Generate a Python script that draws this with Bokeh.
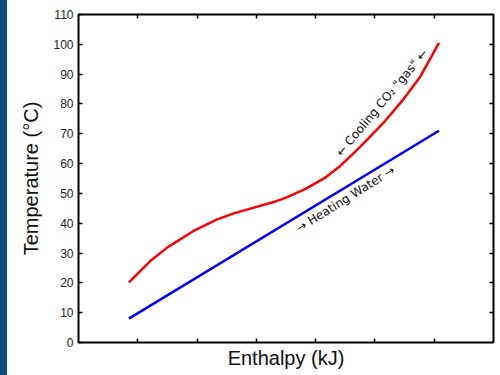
from bokeh.plotting import figure
from bokeh.models import LinearAxis, FixedTicker, CustomJSTickFormatter
from bokeh.core.properties import value
from bokeh.embed import file_html
from bokeh.resources import INLINE

# Data
co2_enthalpy = [0.85, 1.21, 1.50, 1.94, 2.34, 2.62, 2.90, 3.29, 3.49, 3.83,
                4.17, 4.42, 4.76, 5.15, 5.49, 5.77, 6.08]
co2_temp = [20.2, 27.3, 31.9, 37.4, 41.3, 43.3, 44.9, 47.1, 48.5, 51.5,
            55.4, 59.3, 65.8, 73.8, 81.8, 89.3, 100.5]
water_enthalpy = [0.85, 6.08]
water_temp = [8.0, 71.0]
y_ticks = [0, 10, 20, 30, 40, 50, 60, 70, 80, 90, 100, 110]
x_ticks = [1, 2, 3, 4, 5, 6]

FONT = "Liberation Sans"
NOTE_FONT = "DejaVu Sans"

p = figure(width=500, height=375, x_range=(0, 7), y_range=(0, 110),
           output_backend="svg", toolbar_location=None,
           min_border_left=78, min_border_right=7, min_border_top=14,
           min_border_bottom=33,
           x_axis_label="Enthalpy (kJ)", y_axis_label="Temperature (°C)")
p.styles = {"background": "linear-gradient(to right, #0b4a82 0px, #0b4a82 7px, #ffffff 7px)"}
p.border_fill_color = None
p.background_fill_color = "white"
p.grid.visible = False
p.outline_line_color = "black"
p.outline_line_width = 2
p.outline_line_alpha = 1

blank = CustomJSTickFormatter(code="return ''")

def style_axis(ax, ticks, labels=True):
    ax.ticker = FixedTicker(ticks=ticks)
    ax.axis_line_color = None
    ax.major_tick_in = 4
    ax.major_tick_out = 0
    ax.major_tick_line_width = 1.5
    ax.major_tick_line_color = "black"
    ax.minor_tick_line_color = None
    ax.major_label_text_font = FONT
    ax.major_label_text_font_size = "12px"
    ax.major_label_text_color = "#222222"
    ax.axis_label_text_font = FONT
    ax.axis_label_text_font_size = "20px"
    ax.axis_label_text_font_style = "normal"
    ax.axis_label_text_color = "#111111"
    if not labels:
        ax.formatter = blank

style_axis(p.yaxis[0], y_ticks)
p.yaxis[0].major_label_standoff = 5
p.yaxis[0].axis_label_standoff = 8
style_axis(p.xaxis[0], x_ticks, labels=False)
p.xaxis[0].major_label_standoff = 0
p.xaxis[0].axis_label_standoff = 4

right = LinearAxis()
style_axis(right, y_ticks[1:-1], labels=False)
right.major_label_standoff = 0
p.add_layout(right, "right")
top = LinearAxis()
style_axis(top, x_ticks, labels=False)
top.major_label_standoff = 0
p.add_layout(top, "above")

p.line(co2_enthalpy, co2_temp, line_color="#ff0000", line_width=2.5)
p.line(water_enthalpy, water_temp, line_color="#0000ff", line_width=2.5)

p.text(x=[5.116], y=[80.4], text=["\u2190 Cooling CO\u2082 \"gas\" \u2190"], angle=0.873,
       text_align="center", text_baseline="middle", text_font=value(NOTE_FONT),
       text_font_size="12px", text_color="#111111")
p.text(x=[4.503], y=[48.1], text=["\u2192 Heating Water \u2192"], angle=0.559,
       text_align="center", text_baseline="middle", text_font=value(NOTE_FONT),
       text_font_size="12px", text_color="#111111")

open("out.html", "w").write(file_html(p, INLINE))
